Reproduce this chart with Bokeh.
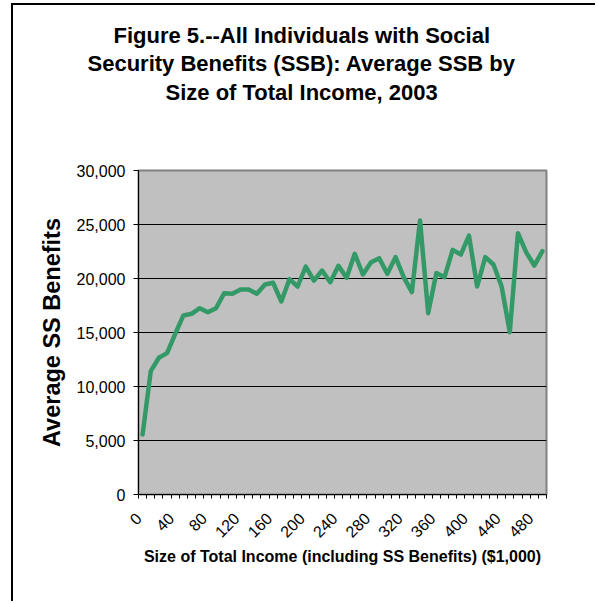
from math import pi

from bokeh.embed import file_html
from bokeh.models import FixedTicker, LinearAxis, NumeralTickFormatter, Range1d, Title
from bokeh.plotting import figure
from bokeh.resources import INLINE

# Size of total income classes ($1,000), one category per $10,000 bracket
income_k = [0, 10, 20, 30, 40, 50, 60, 70, 80, 90,
            100, 110, 120, 130, 140, 150, 160, 170, 180, 190,
            200, 210, 220, 230, 240, 250, 260, 270, 280, 290,
            300, 310, 320, 330, 340, 350, 360, 370, 380, 390,
            400, 410, 420, 430, 440, 450, 460, 470, 480, 490]

# Average Social Security benefit in each income class (dollars)
avg_ssb = [5550, 11420, 12660, 13090, 14880, 16580, 16730, 17250, 16880, 17250,
           18640, 18580, 18980, 18980, 18580, 19450, 19600, 17870, 19940, 19260,
           21110, 19810, 20740, 19660, 21170, 20060, 22290, 20370, 21510, 21880,
           20430, 21980, 20120, 18740, 25370, 16790, 20500, 20120, 22650, 22220,
           23980, 19260, 21980, 21300, 19260, 15030, 24200, 22440, 21200, 22530]

x_label_ticks = [0, 40, 80, 120, 160, 200, 240, 280, 320, 360, 400, 440, 480]
y_ticks = [0, 5000, 10000, 15000, 20000, 25000, 30000]

title_lines = ["Figure 5.--All Individuals with Social",
               "Security Benefits (SSB): Average SSB by",
               "Size of Total Income, 2003"]

FONT = "Liberation Sans"
HALF = 5                      # half a class width, in $1,000
X_LO, X_HI = income_k[0] - HALF, income_k[-1] + HALF

p = figure(
    width=584, height=598,
    x_range=Range1d(X_LO, X_HI), y_range=Range1d(0, 30000),
    output_backend="svg", toolbar_location=None,
    min_border_left=125, min_border_right=51,
    min_border_top=165, min_border_bottom=109,
    background_fill_color="#C0C0C0", border_fill_color="white",
    outline_line_color="#808080", outline_line_width=2,
    margin=(3, 0, 0, 11),
    styles={"border-left": "2px solid #000", "border-top": "2px solid #000"},
)

# Heading: line 3 sits nearest the plot area, with two empty trailing lines
# keeping it clear of the frame; line 2 stacks above it and the plot's own
# title carries line 1 at the top
heading = dict(text_font=FONT, text_font_size="22px", text_font_style="bold",
               text_color="#000000", align="left")
p.add_layout(Title(text=title_lines[2] + "\n\n", offset=27, standoff=0,
                   text_line_height=1.32, **heading), "above")
p.add_layout(Title(text=title_lines[1], offset=-51, standoff=3, **heading), "above")
p.title.text = title_lines[0]
p.title.text_font = FONT
p.title.text_font_size = "22px"
p.title.text_font_style = "bold"
p.title.text_color = "#000000"
p.title.align = "left"
p.title.offset = -25
p.title.standoff = 0

# Horizontal gridlines only
p.xgrid.visible = False
p.ygrid.ticker = FixedTicker(ticks=y_ticks)
p.ygrid.grid_line_color = "#000000"
p.ygrid.grid_line_width = 1

# Value axis
p.yaxis.ticker = FixedTicker(ticks=y_ticks)
p.yaxis.formatter = NumeralTickFormatter(format="0,0")
p.yaxis.major_tick_in = 0
p.yaxis.major_tick_out = 5
p.yaxis.minor_tick_out = 0
p.yaxis.minor_tick_in = 0
p.yaxis.major_label_standoff = 8
p.yaxis.major_label_text_font = FONT
p.yaxis.major_label_text_font_size = "16px"
p.yaxis.major_label_text_color = "#000000"
p.yaxis.axis_line_color = "#000000"
p.yaxis.major_tick_line_color = "#000000"
p.yaxis.axis_label = "Average SS Benefits"
p.yaxis.axis_label_text_font = FONT
p.yaxis.axis_label_text_font_size = "23.5px"
p.yaxis.axis_label_text_font_style = "bold"
p.yaxis.axis_label_text_color = "#000000"
p.yaxis.axis_label_standoff = 9

# Category axis on a copy of the x range moved by half a class, so each
# slanted label hangs from the left edge of its class and the tick marks
# fall between classes
p.xaxis.visible = False
p.extra_x_ranges = {"classes": Range1d(X_LO + HALF, X_HI + HALF)}
edges = [v for v in income_k] + [income_k[-1] + 2 * HALF]
cat_axis = LinearAxis(x_range_name="classes",
                      ticker=FixedTicker(ticks=x_label_ticks, minor_ticks=edges))
cat_axis.major_tick_in = 0
cat_axis.major_tick_out = 0
cat_axis.minor_tick_in = 0
cat_axis.minor_tick_out = 4
cat_axis.minor_tick_line_color = "#000000"
cat_axis.axis_line_color = "#000000"
cat_axis.major_label_orientation = pi / 4
cat_axis.major_label_standoff = 17
cat_axis.major_label_text_font = FONT
cat_axis.major_label_text_font_size = "16px"
cat_axis.major_label_text_color = "#000000"
cat_axis.axis_label = "Size of Total Income (including SS Benefits) ($1,000)"
cat_axis.axis_label_text_font = FONT
cat_axis.axis_label_text_font_size = "16px"
cat_axis.axis_label_text_font_style = "bold"
cat_axis.axis_label_text_color = "#000000"
cat_axis.axis_label_standoff = 2
p.add_layout(cat_axis, "below")

p.line(income_k, avg_ssb, line_color="#339966", line_width=4.5,
       line_join="round", line_cap="round")

open("out.html", "w").write(file_html(p, INLINE))
